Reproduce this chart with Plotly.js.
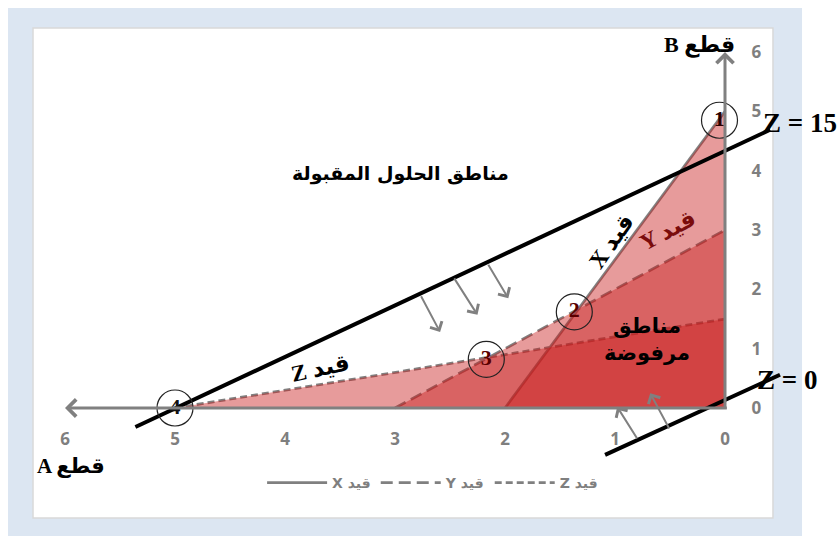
<!DOCTYPE html>
<html>
<head>
<meta charset="utf-8">
<script src="https://cdn.plot.ly/plotly-3.0.1.min.js"></script>
<style>html,body{margin:0;padding:0;background:#fff}#chart{width:840px;height:536px}</style>
</head>
<body>
<div id="chart"></div>
<script>
// Constraint intercepts (A axis value, B axis value)
const xConA = [2, 0];   const xConB = [0, 5];
const yConA = [3, 0];   const yConB = [0, 3];
const zConA = [5, 0];   const zConB = [0, 1.5];
const constraintNames = ['X قيد', 'Y قيد', 'Z قيد'];

// Cost lines
const z15A = [5.36, -0.41]; const z15B = [-0.32, 4.69];
const z0A = [1.09, -0.50];  const z0B = [-0.79, 0.56];

// Corner points
const cornerA = [0.05, 1.37, 2.17, 5.0];
const cornerB = [4.85, 1.62, 0.82, 0.0];
const cornerLabels = ['1', '2', '3', '4'];

// Direction arrows
const downTailA = [2.77, 2.47, 2.16]; const downTailB = [1.91, 2.21, 2.44];
const downHeadA = [2.59, 2.25, 1.97]; const downHeadB = [1.28, 1.57, 1.85];
const upTailA = [0.79, 0.50]; const upTailB = [-0.54, -0.37];
const upHeadA = [0.98, 0.68]; const upHeadB = [0.02, 0.25];

const tickVals = [0, 1, 2, 3, 4, 5, 6];
const tickText = ['0', '1', '2', '3', '4', '5', '6'];

const gray = '#808080';
const fillRed = 'rgba(200,28,28,0.44)';

const traces = [];
const conA = [xConA, yConA, zConA], conB = [xConB, yConB, zConB];
const dashes = ['solid', '12px,6px', '7px,4px'];
for (let i = 0; i < 3; i++) {
  traces.push({type:'scatter', mode:'lines', x:conA[i], y:conB[i], name:constraintNames[i],
    line:{color:gray, width:2.8, dash:dashes[i]}, hoverinfo:'skip'});
}
for (let i = 0; i < 3; i++) {
  traces.push({type:'scatter', mode:'lines', x:[...conA[i], 0], y:[...conB[i], 0], fill:'toself',
    fillcolor:fillRed, line:{width:0, color:'rgba(0,0,0,0)'}, showlegend:false, hoverinfo:'skip'});
}
traces.push({type:'scatter', mode:'lines', x:z15A, y:z15B, line:{color:'#000', width:4}, showlegend:false, hoverinfo:'skip'});
traces.push({type:'scatter', mode:'lines', x:z0A, y:z0B, line:{color:'#000', width:4}, showlegend:false, hoverinfo:'skip'});
traces.push({type:'scatter', mode:'markers+text', x:cornerA, y:cornerB, text:cornerLabels,
  textposition:'middle center',
  textfont:{family:'Liberation Serif', size:22, weight:'bold', color:['#2a0000','#5a0000','#5a0000','#111']},
  marker:{symbol:'circle-open', size:36, color:'#222', line:{width:1.2, color:'#222'}},
  showlegend:false, hoverinfo:'skip'});

const annotations = [];
annotations.push({x:6, y:0, ax:-0.03, ay:0, xref:'x', yref:'y', axref:'x', ayref:'y', text:'', showarrow:true,
  arrowhead:4, arrowsize:1.1, arrowwidth:3, arrowcolor:gray, standoff:0});
annotations.push({x:0, y:6, ax:0, ay:-0.04, xref:'x', yref:'y', axref:'x', ayref:'y', text:'', showarrow:true,
  arrowhead:4, arrowsize:1.1, arrowwidth:3, arrowcolor:gray, standoff:0});
for (let i = 0; i < downTailA.length; i++) {
  annotations.push({x:downHeadA[i], y:downHeadB[i], ax:downTailA[i], ay:downTailB[i], xref:'x', yref:'y', axref:'x', ayref:'y',
    text:'', showarrow:true, arrowhead:4, arrowsize:1.3, arrowwidth:2, arrowcolor:gray, standoff:0});
}
for (let i = 0; i < upTailA.length; i++) {
  annotations.push({x:upHeadA[i], y:upHeadB[i], ax:upTailA[i], ay:upTailB[i], xref:'x', yref:'y', axref:'x', ayref:'y',
    text:'', showarrow:true, arrowhead:4, arrowsize:1.3, arrowwidth:2, arrowcolor:gray, standoff:0});
}
const serifBold = {family:'Liberation Serif, DejaVu Sans', size:27, color:'#000'};
const txt = (x, y, t, font, extra) => Object.assign({x:x, y:y, xref:'x', yref:'y', text:t, showarrow:false, font:font}, extra || {});
annotations.push(txt(0.23, 6.12, '<b>B قطع</b>', {family:'Liberation Serif, DejaVu Sans', size:22, color:'#000'}));
annotations.push(txt(5.95, -0.98, '<b>A قطع</b>', {family:'Liberation Serif, DejaVu Sans', size:21, color:'#000'}));
annotations.push(txt(-0.33, 4.80, '<b>Z = 15</b>', serifBold, {xanchor:'left'}));
annotations.push(txt(-0.27, 0.47, '<b>Z = 0</b>', serifBold, {xanchor:'left'}));
annotations.push(txt(2.95, 3.96, '<b>مناطق الحلول المقبولة</b>', {family:'DejaVu Sans', size:19, color:'#000'}));
annotations.push(txt(0.71, 1.15, '<b>مناطق<br>مرفوضة</b>', {family:'DejaVu Sans', size:21, color:'#000'}));
annotations.push(txt(3.68, 0.66, '<b>Z قيد</b>', {family:'Liberation Serif, DejaVu Sans', size:23, color:'#000'}, {textangle:-12}));
annotations.push(txt(1.03, 2.80, '<b>X قيد</b>', {family:'Liberation Serif, DejaVu Sans', size:23, color:'#000'}, {textangle:-55}));
annotations.push(txt(0.52, 3.00, '<b>Y قيد</b>', {family:'Liberation Serif, DejaVu Sans', size:23, color:'#7a0c0c'}, {textangle:-28}));

const layout = {
  width:840, height:536, autosize:false,
  margin:{l:0, r:0, t:0, b:0, pad:0},
  paper_bgcolor:'#ffffff', plot_bgcolor:'rgba(0,0,0,0)',
  xaxis:{range:[6.5909, -1.04545], tickvals:tickVals, ticktext:tickText, anchor:'free', position:0.2388,
    showgrid:false, zeroline:false, showline:false, ticks:'outside', ticklen:16, tickcolor:'rgba(0,0,0,0)',
    tickfont:{family:'Open Sans', size:17, weight:'bold', color:'#7f7f7f'}, fixedrange:true},
  yaxis:{range:[-2.157, 6.877], tickvals:tickVals, ticktext:tickText, anchor:'free', position:0.8631, side:'right',
    showgrid:false, zeroline:false, showline:false, ticks:'outside', ticklen:22, tickcolor:'rgba(0,0,0,0)',
    tickfont:{family:'Open Sans', size:17, weight:'bold', color:'#7f7f7f'}, fixedrange:true},
  showlegend:true,
  legend:{orientation:'h', x:0.515, xanchor:'center', y:0.099, yanchor:'middle', bgcolor:'rgba(0,0,0,0)',
    itemwidth:60, font:{family:'DejaVu Sans', size:14, weight:'bold', color:'#7f7f7f'}, traceorder:'normal'},
  shapes:[
    {type:'rect', xref:'paper', yref:'paper', x0:0.0095, x1:0.9548, y0:-0.01, y1:0.985, layer:'below',
      fillcolor:'#dce6f2', line:{width:0}},
    {type:'rect', xref:'paper', yref:'paper', x0:0.0393, x1:0.9202, y0:0.0336, y1:0.9478, layer:'below',
      fillcolor:'#ffffff', line:{width:1.5, color:'#d9d9d9'}}
  ],
  annotations:annotations
};
Plotly.newPlot('chart', traces, layout, {displayModeBar:false, staticPlot:true});
</script>
</body>
</html>
